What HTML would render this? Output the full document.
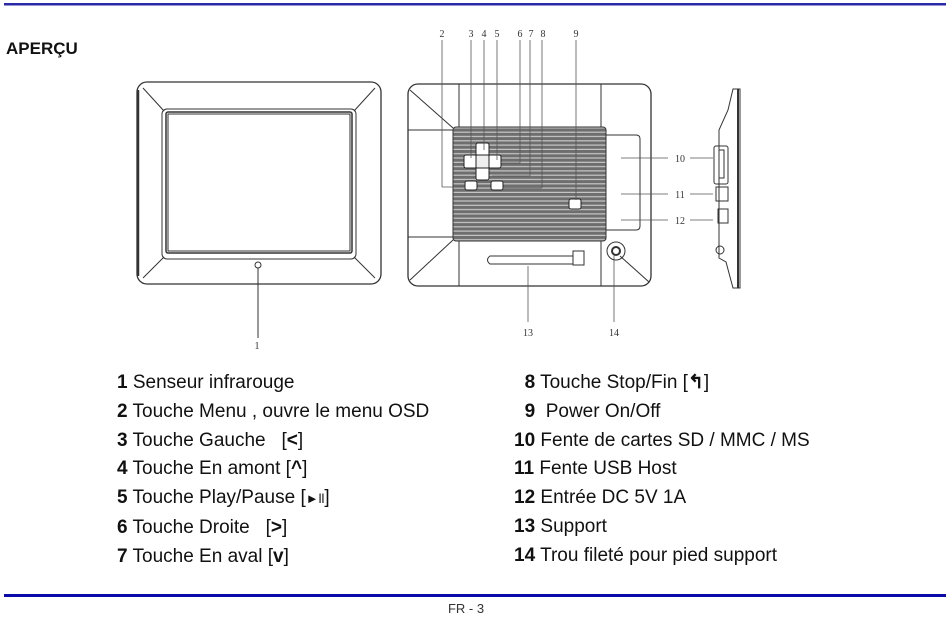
<!DOCTYPE html>
<html><head><meta charset="utf-8"><style>
html,body{margin:0;padding:0;background:#fff;}
body{width:950px;height:623px;position:relative;overflow:hidden;font-family:"Liberation Sans",sans-serif;}
svg{position:absolute;left:0;top:0;}
</style></head><body>
<svg width="950" height="623" viewBox="0 0 950 623" xmlns="http://www.w3.org/2000/svg">
<defs>
<pattern id="st" width="4" height="4.3" patternUnits="userSpaceOnUse">
<rect width="4" height="4.3" fill="#6e6e6e"/><rect y="2.6" width="4" height="1.2" fill="#c8c8c8"/>
</pattern>
</defs>
<rect x="4" y="3" width="942" height="2.5" fill="#2a2aa8"/>
<rect x="4" y="594" width="942" height="3" fill="#0a0aa8"/>
<text x="6" y="54" font-size="17" font-weight="bold" font-family="Liberation Sans, sans-serif" fill="#111">APERÇU</text>
<text x="466" y="613" font-size="13" text-anchor="middle" fill="#333" font-family="Liberation Sans Narrow, Liberation Sans, sans-serif">FR - 3</text>

<g fill="none" stroke="#333" stroke-width="1">
<rect x="137" y="82" width="244" height="202" rx="10" stroke-width="1.3"/>
<line x1="138" y1="90" x2="138" y2="276" stroke-width="2.5"/>
<rect x="162" y="109" width="194" height="150" rx="5"/>
<rect x="166" y="112" width="186" height="141" rx="2" stroke-width="1.5"/>
<rect x="168" y="114" width="182" height="137"/>
<line x1="143" y1="88" x2="164" y2="111"/><line x1="375" y1="88" x2="354" y2="111"/>
<line x1="143" y1="278" x2="164" y2="257"/><line x1="375" y1="278" x2="354" y2="257"/>
<circle cx="258" cy="265" r="3"/>
<line x1="258" y1="268" x2="258" y2="338"/>
</g>
<text x="257" y="349" font-size="10" text-anchor="middle" font-family="Liberation Serif,serif" fill="#333">1</text>

<g fill="none" stroke="#333" stroke-width="1">
<rect x="408" y="84" width="243" height="202" rx="10" stroke-width="1.3"/>
<line x1="459" y1="84" x2="459" y2="128"/><line x1="601" y1="84" x2="601" y2="128"/>
<line x1="459" y1="240" x2="459" y2="286"/><line x1="601" y1="240" x2="601" y2="286"/>
<line x1="408" y1="130" x2="453" y2="130"/><line x1="408" y1="237" x2="453" y2="237"/>
<line x1="410" y1="90" x2="453" y2="128"/><line x1="410" y1="280" x2="453" y2="240"/>
<line x1="649" y1="282" x2="620" y2="256"/>
<path d="M605 135 L636 135 Q640 135 640 139 L640 226 Q640 230 636 230 L605 230"/>
</g>
<rect x="453" y="127" width="153" height="114" rx="3" fill="url(#st)" stroke="#333"/>
<g stroke="#222" stroke-width="1" fill="#fff">
<rect x="476" y="143" width="13" height="13" rx="2"/>
<rect x="476" y="167" width="13" height="13" rx="2"/>
<rect x="464" y="155" width="13" height="13" rx="2"/>
<rect x="488" y="155" width="13" height="13" rx="2"/>
<rect x="476" y="155" width="13" height="13" rx="1" fill="#eee"/>
<rect x="465" y="181" width="12" height="9" rx="2"/>
<rect x="491" y="181" width="12" height="9" rx="2"/>
<rect x="569" y="199" width="12" height="10" rx="2"/>
</g>
<g stroke="#555" stroke-width="0.8" fill="none">
<line x1="442" y1="40" x2="442" y2="187"/><line x1="442" y1="187" x2="465" y2="187"/>
<line x1="471" y1="40" x2="471" y2="158"/>
<line x1="484" y1="40" x2="484" y2="150"/>
<line x1="497" y1="40" x2="497" y2="160"/>
<line x1="520" y1="40" x2="520" y2="163"/><line x1="502" y1="163" x2="520" y2="163"/>
<line x1="530" y1="40" x2="530" y2="176"/><line x1="492" y1="176" x2="530" y2="176"/>
<line x1="542" y1="40" x2="542" y2="188"/><line x1="503" y1="188" x2="542" y2="188"/>
<line x1="576" y1="40" x2="576" y2="200"/>
<line x1="621" y1="158" x2="668" y2="158"/><line x1="690" y1="158" x2="713" y2="158"/>
<line x1="621" y1="194" x2="668" y2="194"/><line x1="690" y1="194" x2="713" y2="194"/>
<line x1="621" y1="220" x2="668" y2="220"/><line x1="690" y1="220" x2="713" y2="220"/>
<line x1="528" y1="266" x2="528" y2="322"/>
<line x1="614" y1="254" x2="614" y2="322"/>
</g>
<g fill="#333" font-size="10" font-family="Liberation Serif,serif" text-anchor="middle">
<text x="442" y="37">2</text><text x="471" y="37">3</text><text x="484" y="37">4</text><text x="497" y="37">5</text>
<text x="520" y="37">6</text><text x="531" y="37">7</text><text x="543" y="37">8</text><text x="576" y="37">9</text>
<text x="680" y="162">10</text><text x="680" y="198">11</text><text x="680" y="224">12</text>
<text x="528" y="336">13</text><text x="614" y="336">14</text>
</g>
<g fill="none" stroke="#333">
<path d="M490 256 L573 256 L573 264 L490 264 Q485 260 490 256 Z"/>
<rect x="573" y="251" width="11" height="14" fill="#fff"/>
<circle cx="616" cy="251" r="9"/><circle cx="616" cy="251" r="4" stroke-width="2"/>
</g>
<g fill="none" stroke="#333">
<path d="M733 89 L740 89 L740 288 L733 288 L726 262 L719 258 L719 130 L728 110 Z"/>
<line x1="738" y1="89" x2="738" y2="288" stroke-width="2"/>
<rect x="714" y="146" width="14" height="38" rx="2"/>
<rect x="719" y="150" width="5" height="28"/>
<rect x="716" y="187" width="12" height="14"/>
<rect x="718" y="209" width="10" height="14"/>
<circle cx="720" cy="250" r="4"/>
</g>
</svg>
<div style="position:absolute;left:117px;top:369px;font-size:19px;line-height:28.8px;color:#111;">
<div><b>1</b> Senseur infrarouge</div>
<div><b>2</b> Touche Menu , ouvre le menu OSD</div>
<div><b>3</b> Touche Gauche &nbsp;&nbsp;[<b>&lt;</b>]</div>
<div><b>4</b> Touche En amont [<b>^</b>]</div>
<div><b>5</b> Touche Play/Pause [<span style="font-size:13px">►ll</span>]</div>
<div><b>6</b> Touche Droite &nbsp;&nbsp;[<b>&gt;</b>]</div>
<div><b>7</b> Touche En aval [<b>v</b>]</div>
</div>
<div style="position:absolute;left:514px;top:369px;font-size:19px;line-height:28.8px;color:#111;">
<div>&nbsp;&nbsp;<b>8</b> Touche Stop/Fin [<b>↰</b>]</div>
<div>&nbsp;&nbsp;<b>9</b>&nbsp; Power On/Off</div>
<div><b>10</b> Fente de cartes SD / MMC / MS</div>
<div><b>11</b> Fente USB Host</div>
<div><b>12</b> Entrée DC 5V 1A</div>
<div><b>13</b> Support</div>
<div><b>14</b> Trou fileté pour pied support</div>
</div>
</body></html>
